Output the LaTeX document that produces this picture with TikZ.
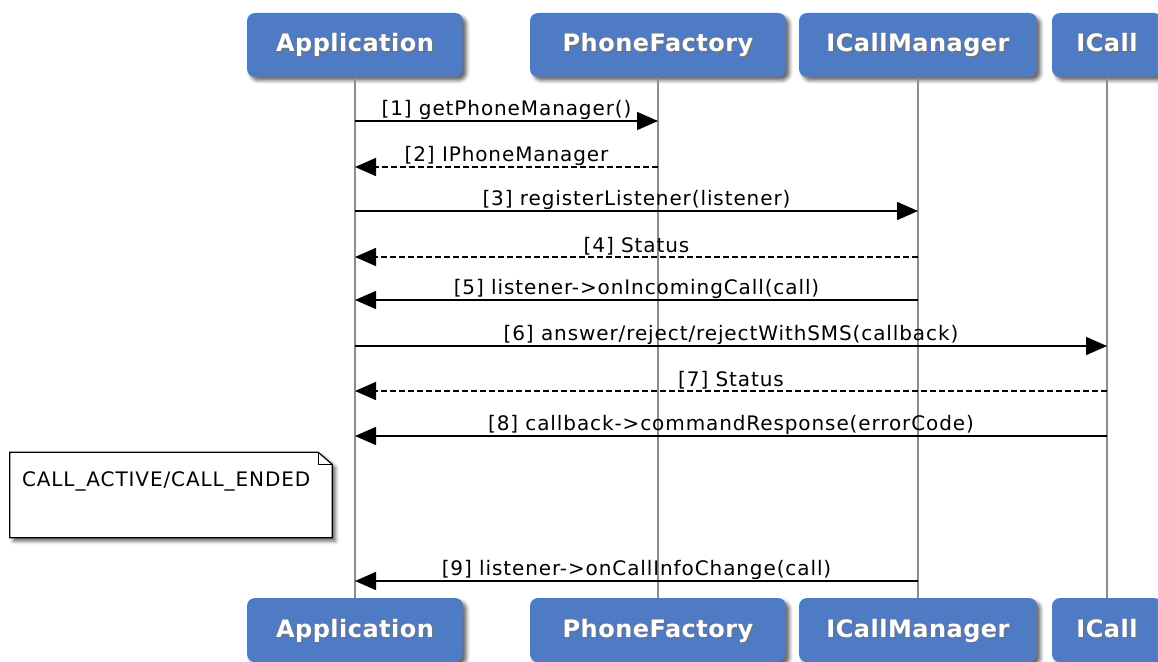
\documentclass[tikz,border=0pt]{standalone}
\usepackage{fontspec}
\setmainfont{DejaVu Sans}[LetterSpace=4.5]
\newfontfamily\partfont{DejaVu Sans}[LetterSpace=2]
\usetikzlibrary{arrows.meta,shadows.blur}
\definecolor{partblue}{RGB}{79,122,196}
% white label with a soft dark shadow
\newcommand{\shtext}[1]{\rlap{\kern1.4pt\raisebox{-1.4pt}{\color{black!55}#1}}#1}
\tikzset{
	part/.style={fill=partblue, rounded corners=8pt, text=white, minimum height=64pt, inner sep=0pt,
			text height=14pt, text depth=0pt,
			blur shadow={shadow xshift=3.5pt, shadow yshift=-3.5pt, shadow blur radius=3.5pt, shadow opacity=60},
			font=\partfont\bfseries\fontsize{24}{27}\selectfont},
	lifeline/.style={draw=black!45, line width=1.8pt},
	msg/.style={line width=1.6pt, -{Triangle[length=21pt,width=18pt]}},
	reply/.style={msg, dash pattern=on 6pt off 3pt},
	lbl/.style={midway, above, inner sep=1pt, font=\fontsize{20}{23}\selectfont},
	notebox/.style={draw, line width=1.2pt, fill=white,
			blur shadow={shadow xshift=3.5pt, shadow yshift=-3.5pt, shadow blur radius=3.5pt, shadow opacity=60}},
}
\begin{document}
\begin{tikzpicture}[x=1pt, y=-1pt]
	\useasboundingbox (0,0) rectangle (1158,661);
	\clip (0,0) rectangle (1158,661);
	% participants
	\node[part, minimum width=216pt] (app) at (355, 45) {\shtext{Application}};
	\node[part, minimum width=256pt] (fac) at (658, 45) {\shtext{PhoneFactory}};
	\node[part, minimum width=238pt] (mgr) at (918, 45) {\shtext{ICallManager}};
	\node[part, minimum width=110pt] (call) at (1107, 45) {\shtext{ICall}};
	\node[part, minimum width=216pt] (appB) at (355, 630) {\shtext{Application}};
	\node[part, minimum width=256pt] (facB) at (658, 630) {\shtext{PhoneFactory}};
	\node[part, minimum width=238pt] (mgrB) at (918, 630) {\shtext{ICallManager}};
	\node[part, minimum width=110pt] (callB) at (1107, 630) {\shtext{ICall}};
	\draw[lifeline] (app.south) -- (appB.north);
	\draw[lifeline] (fac.south) -- (facB.north);
	\draw[lifeline] (mgr.south) -- (mgrB.north);
	\draw[lifeline] (call.south) -- (callB.north);
	% message rows
	\foreach \i/\y in {1/121, 2/167, 3/211, 4/257, 5/300, 6/346, 7/391, 8/436, 9/581}
	\coordinate (m\i) at (0, \y);
	\draw[msg] (app |- m1) -- node[lbl] {[1] getPhoneManager()} (fac |- m1);
	\draw[reply] (fac |- m2) -- node[lbl] {[2] IPhoneManager} (app |- m2);
	\draw[msg] (app |- m3) -- node[lbl] {[3] registerListener(listener)} (mgr |- m3);
	\draw[reply] (mgr |- m4) -- node[lbl] {[4] Status} (app |- m4);
	\draw[msg] (mgr |- m5) -- node[lbl] {[5] listener->onIncomingCall(call)} (app |- m5);
	\draw[msg] (app |- m6) -- node[lbl] {[6] answer/reject/rejectWithSMS(callback)} (call |- m6);
	\draw[reply] (call |- m7) -- node[lbl] {[7] Status} (app |- m7);
	\draw[msg] (call |- m8) -- node[lbl] {[8] callback->commandResponse(errorCode)} (app |- m8);
	\draw[msg] (mgr |- m9) -- node[lbl] {[9] listener->onCallInfoChange(call)} (app |- m9);
	% note
	\node[inner sep=0pt, minimum width=322pt, minimum height=85pt] (note) at (171, 495) {};
	\path[notebox] (note.north west) -- ([xshift=-14pt]note.north east) -- ([yshift=-12pt]note.north east)
		-- (note.south east) -- (note.south west) -- cycle;
	\draw[line width=1pt] ([xshift=-14pt]note.north east) -- ([xshift=-14pt, yshift=-12pt]note.north east)
		-- ([yshift=-12pt]note.north east);
	\node[anchor=north west, inner sep=0pt, font=\fontsize{20}{23}\selectfont] (noteTxt)
		at ([xshift=12pt, yshift=-19pt]note.north west) {CALL\_ACTIVE/CALL\_ENDED};
\end{tikzpicture}
\end{document}
